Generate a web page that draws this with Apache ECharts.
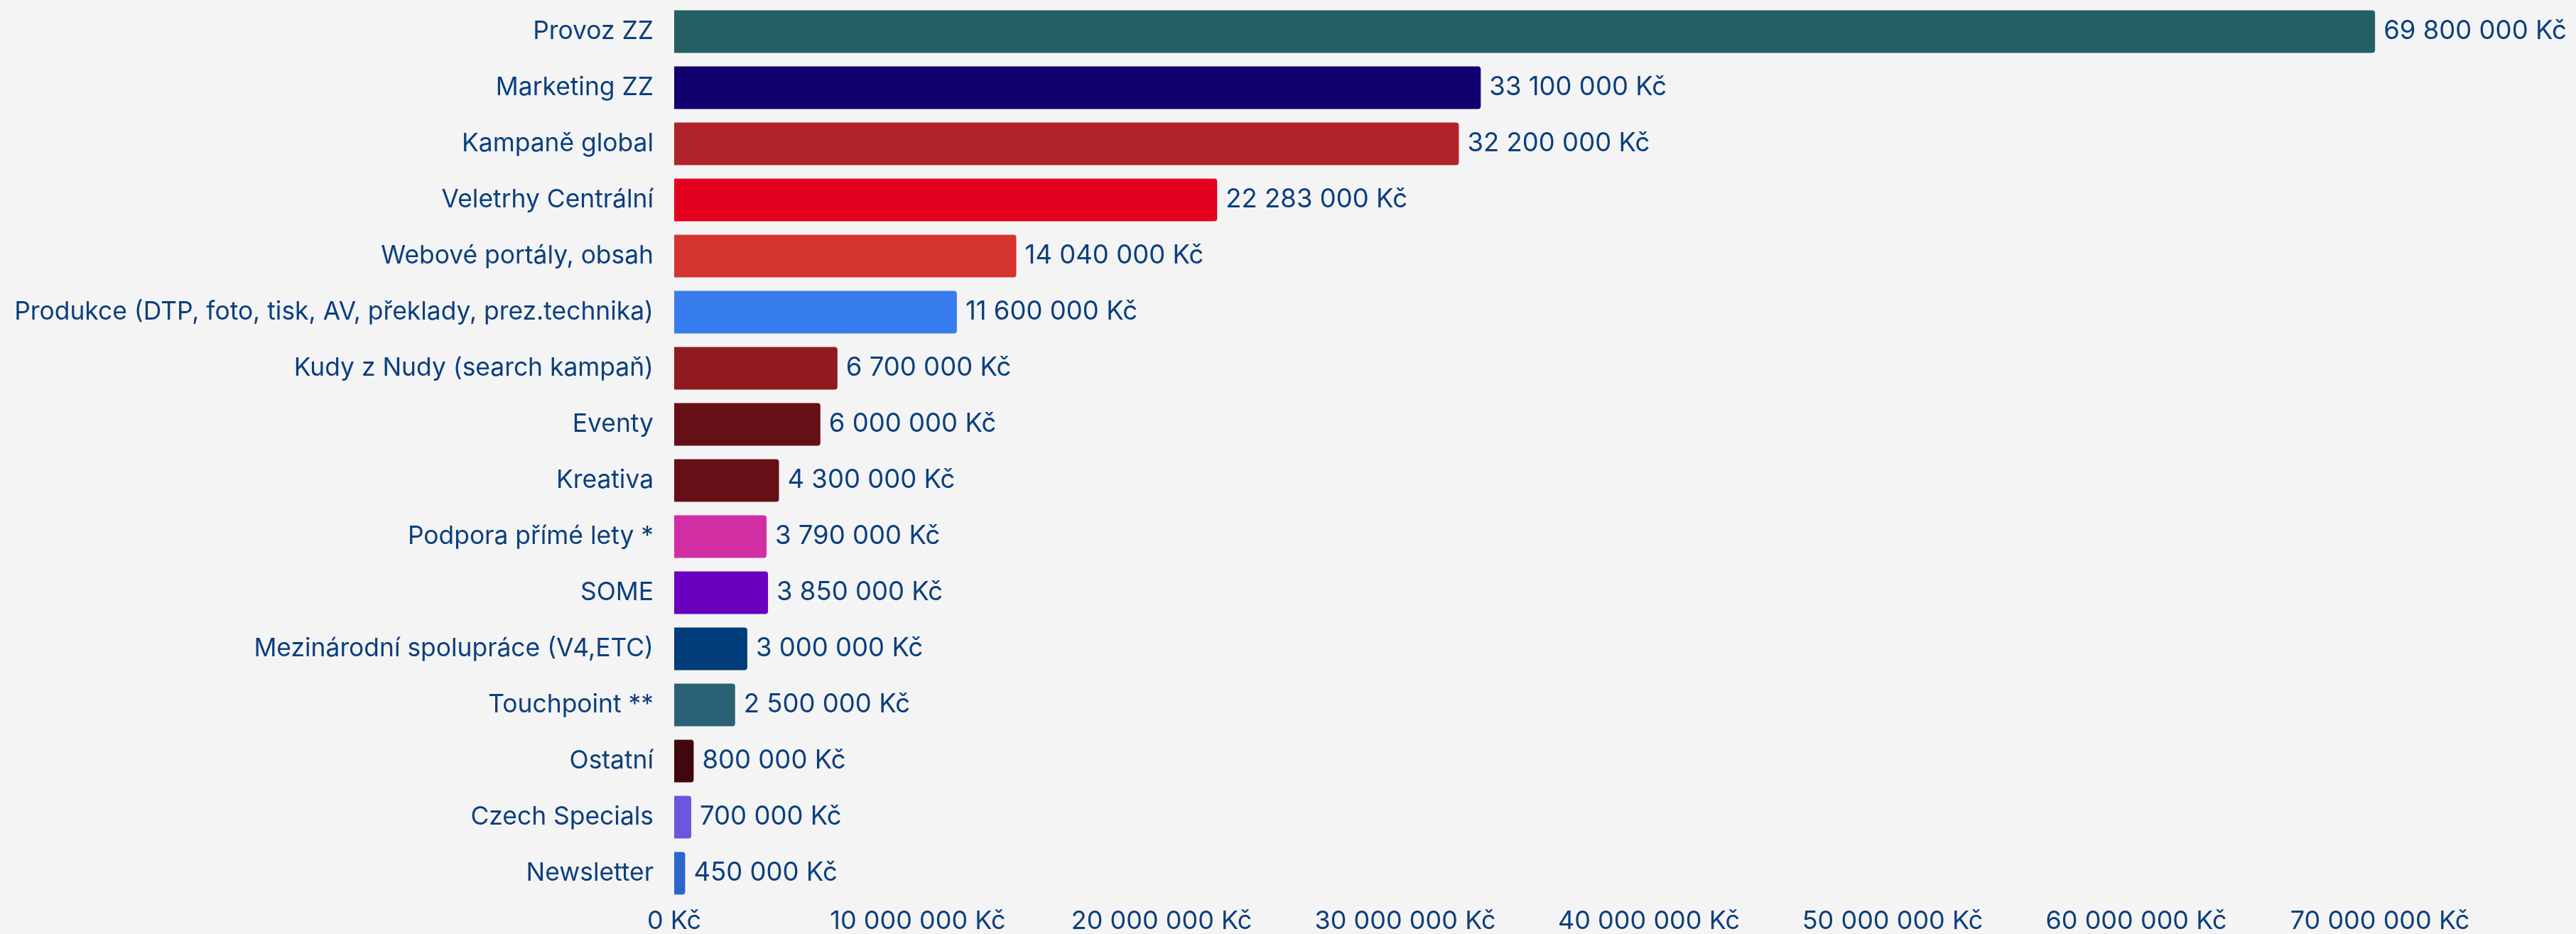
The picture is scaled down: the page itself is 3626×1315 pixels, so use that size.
<!DOCTYPE html>
<html lang="cs">
<head>
<meta charset="utf-8">
<title>Rozpočet podle položek</title>
<script src="https://cdn.jsdelivr.net/npm/echarts@6/dist/echarts.min.js"></script>
<style>
  html, body { margin: 0; padding: 0; background: #f4f4f4; }
  #chart { width: 3626px; height: 1315px; }
</style>
</head>
<body>
<div id="chart"></div>
<script>
// Budget items (top to bottom)
const categories = [
  'Provoz ZZ',
  'Marketing ZZ',
  'Kampaně global',
  'Veletrhy Centrální',
  'Webové portály, obsah',
  'Produkce (DTP, foto, tisk, AV, překlady, prez.technika)',
  'Kudy z Nudy (search kampaň)',
  'Eventy',
  'Kreativa',
  'Podpora přímé lety *',
  'SOME',
  'Mezinárodní spolupráce (V4,ETC)',
  'Touchpoint **',
  'Ostatní',
  'Czech Specials',
  'Newsletter'
];

// Amounts in CZK
const amounts = [
  69800000, 33100000, 32200000, 22283000, 14040000, 11600000,
  6700000, 6000000, 4300000, 3790000, 3850000, 3000000,
  2500000, 800000, 700000, 450000
];

// One fill per item
const barColors = [
  '#245f63', '#10006f', '#b1232a', '#e4001f', '#d33430', '#387dee',
  '#911a1e', '#651016', '#651016', '#d22ea3', '#6800bd', '#003c79',
  '#2a6275', '#41070e', '#6b56de', '#2c66c9'
];

// Value axis ticks
const axisMax = 70000000;
const axisStep = 10000000;

const textColor = '#0b3f7e';
const fontFamily = 'Inter, "Noto Sans", sans-serif';

function czk(v) {
  return String(Math.round(v)).replace(/\B(?=(\d{3})+(?!\d))/g, ' ') + ' Kč';
}

const chart = echarts.init(document.getElementById('chart'), null, { renderer: 'canvas' });

chart.setOption({
  backgroundColor: '#f4f4f4',
  animation: false,
  grid: { left: 949, right: 276, top: 5, bottom: 41, containLabel: false },
  xAxis: {
    type: 'value',
    min: 0,
    max: axisMax,
    interval: axisStep,
    axisLine: { show: false },
    axisTick: { show: false },
    splitLine: { show: false },
    axisLabel: {
      color: textColor,
      fontFamily: fontFamily,
      fontSize: 36,
      margin: 10,
      formatter: czk
    }
  },
  yAxis: {
    type: 'category',
    data: categories,
    inverse: true,
    axisLine: { show: false },
    axisTick: { show: false },
    axisLabel: {
      color: textColor,
      fontFamily: fontFamily,
      fontSize: 35.4,
      margin: 29
    }
  },
  series: [{
    type: 'bar',
    data: amounts.map((v, i) => ({ value: v, itemStyle: { color: barColors[i] } })),
    barCategoryGap: '24%',
    itemStyle: { borderRadius: [0, 4, 4, 0] },
    label: {
      show: true,
      position: 'right',
      distance: 12,
      color: textColor,
      fontFamily: fontFamily,
      fontSize: 36.5,
      formatter: p => czk(p.value)
    }
  }]
});
</script>
</body>
</html>
